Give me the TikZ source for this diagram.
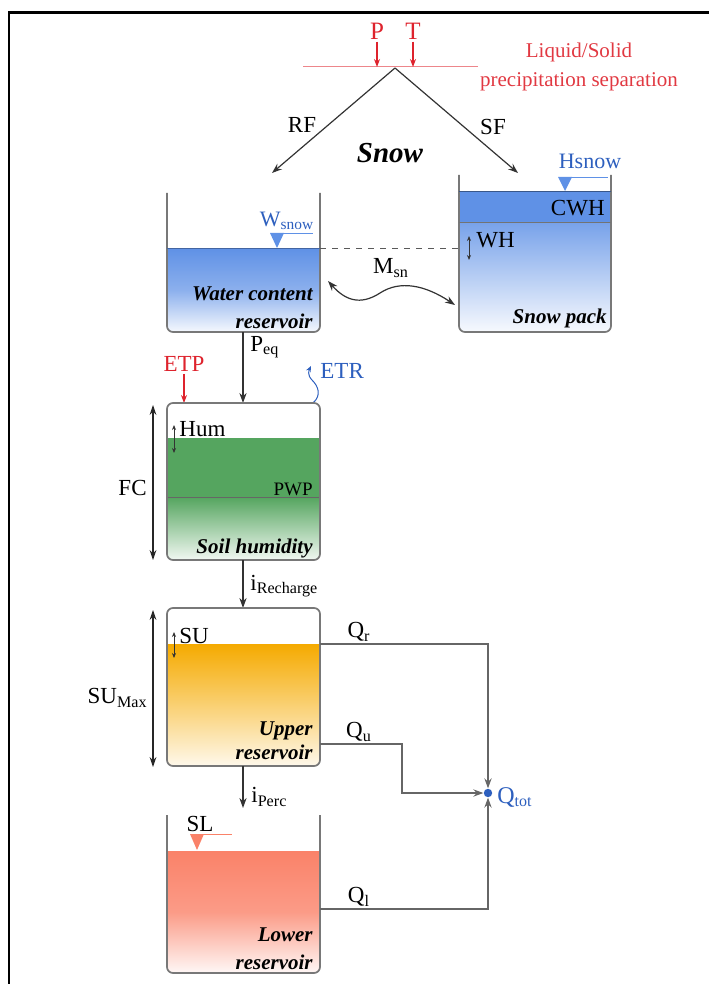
\documentclass[tikz,border=0pt]{standalone}
\usepackage{fontspec}
\setmainfont{Liberation Serif}
\usetikzlibrary{arrows.meta, positioning}
\definecolor{hydroblue}{RGB}{95,145,230}
\definecolor{hydrored}{RGB}{222,35,45}
\definecolor{labelblue}{RGB}{45,95,190}
\definecolor{soilgreen}{RGB}{85,165,95}
\definecolor{upperorange}{RGB}{245,170,0}
\definecolor{lowersalmon}{RGB}{250,130,105}
\definecolor{tankgrey}{RGB}{120,120,120}

\begin{document}
\begin{tikzpicture}[x=0.5pt, y=-0.5pt,
 tank/.style={draw=tankgrey, line width=0.85pt, rounded corners=3pt},
 flow/.style={draw=black!80, line width=0.6pt, -{Stealth[length=5pt,width=3.6pt]}},
 redflow/.style={draw=hydrored, line width=0.6pt, -{Stealth[length=4pt,width=3pt]}},
 qflow/.style={draw=black!60, line width=0.8pt, -{Stealth[length=5pt,width=3.6pt]}},
 span/.style={draw=black!85, line width=0.6pt, {Stealth[length=5pt,width=3.4pt]}-{Stealth[length=5pt,width=3.4pt]}},
 smallspan/.style={draw=black!80, line width=0.4pt, {Stealth[length=2.5pt,width=2pt]}-{Stealth[length=2.5pt,width=2pt]}},
 waterline/.style={draw=#1, line width=0.45pt},
 lbl/.style={font=\fontsize{11.5}{13}\selectfont, inner sep=1pt},
 tanklbl/.style={font=\fontsize{10.5}{14}\selectfont\bfseries\itshape, align=right, anchor=east, inner sep=1pt}]
 \useasboundingbox (0,0) rectangle (709,984);
 \draw[line width=1.2pt] (9,984) -- (9,12.5) -- (709,12.5);

 \coordinate (sepL) at (303,67);
 \coordinate (sepR) at (478,67);
 \coordinate (apex) at (395,68);
 \coordinate (rfend) at (272,173);
 \coordinate (sfend) at (518,173);
 \draw[draw=hydrored!55, line width=0.5pt] (sepL) -- (sepR);
 \node[lbl, text=hydrored, font=\fontsize{12.5}{14}\selectfont] (P) at (377,31) {P};
 \node[lbl, text=hydrored, font=\fontsize{12.5}{14}\selectfont] (T) at (413,31) {T};
 \draw[redflow] (P) -- (P |- sepL);
 \draw[redflow] (T) -- (T |- sepL);
 \node[lbl, text=hydrored!90!white, align=center, font=\fontsize{10.5}{14.5}\selectfont] (sepnote) at (579,67) {Liquid/Solid\\precipitation separation};
 \draw[flow] (apex) -- (rfend);
 \draw[flow] (apex) -- (sfend);
 \node[lbl] (RF) at (302,125) {RF};
 \node[lbl] (SF) at (493,127) {SF};
 \node[lbl, font=\fontsize{14.5}{16}\selectfont\bfseries\itshape] (snow) at (390,153) {Snow};

 \shade[top color=hydroblue, bottom color=hydroblue!6, middle color=hydroblue!72, rounded corners=3pt] (167,248) -- (167,332) -- (320,332) -- (320,248);
 \draw[tank] (167,193) -- (167,332) -- (320,332) -- (320,193);
 \draw[waterline=hydroblue!70!black] (167,248) -- (320,248);
 \draw[dashed, draw=black!65, line width=0.5pt] (320,248) -- (611,248);
 \fill[hydroblue] (270,233) -- (284,233) -- (277,248) -- cycle;
 \draw[waterline=hydroblue] (277,233) -- (313,233);
 \node[lbl, text=labelblue, font=\fontsize{11}{13}\selectfont] (Wsnow) at (287,221) {W\textsubscript{snow}};
 \node[tanklbl] (wclbl) at (315,308) {Water content\\reservoir};

 \fill[hydroblue] (459,191) rectangle (611,222);
 \shade[top color=hydroblue!85, bottom color=hydroblue!5, rounded corners=3pt] (459,222) -- (459,332) -- (611,332) -- (611,222);
 \draw[tank] (459,175) -- (459,332) -- (611,332) -- (611,175);
 \draw[waterline=hydroblue!60!black] (459,191) -- (611,191);
 \draw[waterline=black!55] (459,222) -- (611,222);
 \fill[hydroblue] (558,177) -- (572,177) -- (565,191) -- cycle;
 \draw[waterline=hydroblue] (565,177) -- (608,177);
 \node[lbl, text=labelblue, font=\fontsize{11}{13}\selectfont] (Hsnow) at (590,161) {Hsnow};
 \node[lbl, anchor=east] (CWH) at (607,208) {CWH};
 \coordinate (whTop) at (469,236);
 \coordinate (whBot) at (469,260);
 \draw[smallspan] (whTop) -- (whBot);
 \node[lbl, anchor=west] (WH) at (474,240) {WH};
 \node[tanklbl] (splbl) at (609,318) {Snow pack};

 \node[lbl] (Msn) at (391,268) {M\textsubscript{sn}};
 \coordinate (msnL) at (328,281);
 \coordinate (msnR) at (455,305);
 \draw[flow, {Stealth[length=5pt,width=3.6pt]}-{Stealth[length=5pt,width=3.6pt]}] (msnL) .. controls (345,300) and (360,306) .. (380,293) .. controls (400,280) and (425,285) .. (msnR);

 \coordinate (wcout) at (243,332);
 \coordinate (soilin) at (243,403);
 \draw[flow] (wcout) -- (soilin);
 \node[lbl, anchor=west] (Peq) at (248,347) {P\textsubscript{eq}};
 \node[lbl, text=hydrored] (ETP) at (184,364) {ETP};
 \draw[redflow] (ETP) -- (ETP |- soilin);
 \coordinate (soilTR) at (313,403);
 \coordinate (etrtip) at (311,366);
 \draw[draw=labelblue, line width=0.5pt, -{Stealth[length=3pt,width=2.5pt]}] (soilTR) .. controls (322,395) and (318,386) .. (312,380) .. controls (307,375) and (309,370) .. (etrtip);
 \node[lbl, text=labelblue, anchor=west] (ETR) at (318,371) {ETR};

 \fill[soilgreen] (167,438) rectangle (320,497);
 \shade[top color=soilgreen, bottom color=soilgreen!8, rounded corners=3pt] (167,497) -- (167,560) -- (320,560) -- (320,497);
 \draw[waterline=black!60] (167,497) -- (320,497);
 \draw[tank] (167,403) rectangle (320,560);
 \coordinate (humTop) at (174,425);
 \coordinate (humBot) at (174,453);
 \draw[smallspan] (humTop) -- (humBot);
 \node[lbl, anchor=west] (Hum) at (177,429) {Hum};
 \node[lbl, anchor=east, font=\fontsize{9.5}{11}\selectfont] (PWP) at (315,489) {PWP};
 \node[tanklbl] (soillbl) at (315,548) {Soil humidity};
 \coordinate (fcTop) at (153,405);
 \coordinate (fcBot) at (153,560);
 \draw[span] (fcTop) -- (fcBot);
 \node[lbl, anchor=east] (FC) at (149,488) {FC};

 \coordinate (soilout) at (243,560);
 \coordinate (upin) at (243,608);
 \draw[flow] (soilout) -- (upin);
 \node[lbl, anchor=west] (iRech) at (248,586) {i\textsubscript{Recharge}};

 \shade[top color=upperorange, bottom color=upperorange!8, middle color=upperorange!55, rounded corners=3pt] (167,644) -- (167,766) -- (320,766) -- (320,644);
 \draw[tank] (167,608) rectangle (320,766);
 \coordinate (suTop) at (174,632);
 \coordinate (suBot) at (174,658);
 \draw[smallspan] (suTop) -- (suBot);
 \node[lbl, anchor=west] (SU) at (177,636) {SU};
 \coordinate (sumTop) at (153,610);
 \coordinate (sumBot) at (153,767);
 \draw[span] (sumTop) -- (sumBot);
 \node[lbl, anchor=east] (SUmax) at (150,698) {SU\textsubscript{Max}};
 \node[tanklbl, font=\fontsize{10.5}{12}\selectfont\bfseries\itshape] (uplbl) at (315,741) {Upper\\reservoir};

 \coordinate (upout) at (243,766);
 \coordinate (lowin) at (243,808);
 \draw[flow] (upout) -- (lowin);
 \node[lbl, anchor=west] (iPerc) at (249,797) {i\textsubscript{Perc}};

 \shade[top color=lowersalmon, bottom color=lowersalmon!6, middle color=lowersalmon!80, rounded corners=3pt] (167,851) -- (167,973) -- (320,973) -- (320,851);
 \draw[tank] (167,815) -- (167,973) -- (320,973) -- (320,815);
 \fill[lowersalmon] (190,834) -- (204,834) -- (197,850) -- cycle;
 \draw[waterline=lowersalmon] (197,834) -- (232,834);
 \node[lbl] (SL) at (200,824) {SL};
 \node[tanklbl] (lowlbl) at (315,949) {Lower\\reservoir};

 \node[circle, fill=labelblue, inner sep=0pt, minimum size=4.2pt] (qtot) at (488,793) {};
 \node[lbl, text=labelblue, anchor=west, font=\fontsize{12}{14}\selectfont] (Qtot) at (495,797) {Q\textsubscript{tot}};
 \coordinate (qrout) at (320,644);
 \coordinate (quout) at (320,744);
 \coordinate (qubend) at (402,744);
 \coordinate (qlout) at (320,909);
 \draw[qflow] (qrout) -| (qtot.north);
 \draw[qflow] (quout) -- (qubend) |- (qtot.west);
 \draw[qflow] (qlout) -| (qtot.south);
 \node[lbl] (Qr) at (359,632) {Q\textsubscript{r}};
 \node[lbl] (Qu) at (359,732) {Q\textsubscript{u}};
 \node[lbl] (Ql) at (359,897) {Q\textsubscript{l}};
\end{tikzpicture}
\end{document}
